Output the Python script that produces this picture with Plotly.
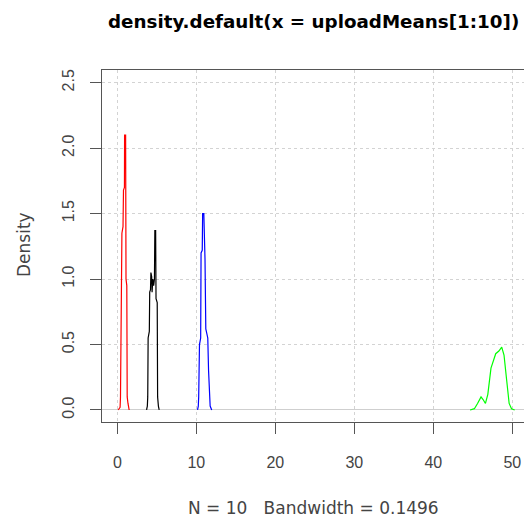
import plotly.graph_objects as go

# Density curves (x, density)
red_x = [0.1, 0.35, 0.40, 0.45, 0.52, 0.58, 0.72, 0.78, 0.90, 0.92, 1.05, 1.10, 1.20, 1.25, 1.35, 1.50]
red_y = [0.0, 0.02, 0.10, 0.50, 0.55, 1.35, 1.40, 1.68, 1.70, 2.10, 2.10, 1.00, 0.95, 0.10, 0.05, 0.0]

black_x = [3.70, 3.80, 3.85, 3.90, 4.05, 4.10, 4.20, 4.25, 4.35, 4.40, 4.50, 4.60, 4.70, 4.75, 4.85, 4.90, 5.05, 5.10, 5.20, 5.30]
black_y = [0.0, 0.03, 0.10, 0.55, 0.60, 0.90, 0.92, 1.05, 1.02, 0.90, 1.00, 0.95, 1.00, 1.37, 1.37, 0.85, 0.82, 0.10, 0.03, 0.0]

blue_x = [10.15, 10.25, 10.30, 10.40, 10.55, 10.60, 10.75, 10.80, 10.95, 11.00, 11.10, 11.20, 11.30, 11.45, 11.55, 11.65, 11.75, 11.95]
blue_y = [0.0, 0.03, 0.10, 0.50, 0.55, 1.20, 1.22, 1.50, 1.50, 1.20, 1.15, 0.62, 0.58, 0.55, 0.30, 0.10, 0.03, 0.0]

green_x = [44.65, 45.20, 45.60, 46.04, 46.30, 46.60, 46.90, 47.30, 47.90, 48.30, 48.66, 48.95, 49.30, 49.60, 49.90, 50.30]
green_y = [0.0, 0.01, 0.05, 0.10, 0.08, 0.05, 0.12, 0.32, 0.43, 0.45, 0.48, 0.42, 0.22, 0.05, 0.01, 0.0]

x_ticks = [0, 10, 20, 30, 40, 50]
y_ticks = [0.0, 0.5, 1.0, 1.5, 2.0, 2.5]

series = [
    (black_x, black_y, "#000000"),
    (red_x, red_y, "#FF0000"),
    (green_x, green_y, "#00FF00"),
    (blue_x, blue_y, "#0000FF"),
]

fig = go.Figure()
for xs, ys, c in series:
    fig.add_trace(go.Scatter(x=xs, y=ys, mode="lines",
                             line=dict(color=c, width=1.2), showlegend=False,
                             hoverinfo="skip"))

font = "DejaVu Sans, sans-serif"
tick_font = "Liberation Sans, Arial, sans-serif"
axis_col = "#555555"
txt_col = "#444444"

fig.update_layout(
    width=525, height=521,
    margin=dict(l=102, r=1, t=70, b=99),
    paper_bgcolor="white", plot_bgcolor="white",
    font=dict(family=font, size=14, color=txt_col),
    showlegend=False,
    xaxis=dict(
        range=[-1.94, 51.48],
        tickvals=x_ticks, ticktext=[str(v) for v in x_ticks],
        ticks="outside", ticklen=11, tickcolor=axis_col, tickwidth=1,
        showline=True, linecolor=axis_col, linewidth=1, mirror=True,
        showgrid=True, gridcolor="#d3d3d3", griddash="dot", gridwidth=1,
        zeroline=False, ticklabelstandoff=15,
        tickfont=dict(family=tick_font, size=16, color=txt_col),
    ),
    yaxis=dict(
        range=[-0.0917, 2.597],
        tickvals=y_ticks, ticktext=[f"{v:.1f}" for v in y_ticks],
        ticks="outside", ticklen=11, tickcolor=axis_col, tickwidth=1,
        showline=True, linecolor=axis_col, linewidth=1,
        showgrid=True, gridcolor="#d3d3d3", griddash="dot", gridwidth=1,
        zeroline=True, zerolinecolor="#cfcfcf", zerolinewidth=1,
        tickangle=-90, ticklabelstandoff=10,
        tickfont=dict(family=tick_font, size=16, color=txt_col),
    ),
    annotations=[
        dict(text="<b>density.default(x = uploadMeans[1:10])</b>", x=313, y=521 - 22,
             xref="paper", yref="paper", showarrow=False,
             font=dict(family=font, size=18.3, color="#000000")),
        dict(text="N = 10   Bandwidth = 0.1496", x=313, y=521 - 508,
             xref="paper", yref="paper", showarrow=False,
             font=dict(family=font, size=17, color=txt_col)),
        dict(text="Density", x=24, y=521 - 245, textangle=-90,
             xref="paper", yref="paper", showarrow=False,
             font=dict(family=font, size=17, color=txt_col)),
    ],
)

# convert pixel-specified annotation positions into paper coordinates
pw = 525 - 102 - 1
ph = 521 - 70 - 99
for a in fig.layout.annotations:
    px, py = a.x, a.y
    a.x = (px - 102) / pw
    a.y = (py - 99) / ph
    a.xanchor = "center"
    a.yanchor = "middle"

fig.write_html("out.html")
